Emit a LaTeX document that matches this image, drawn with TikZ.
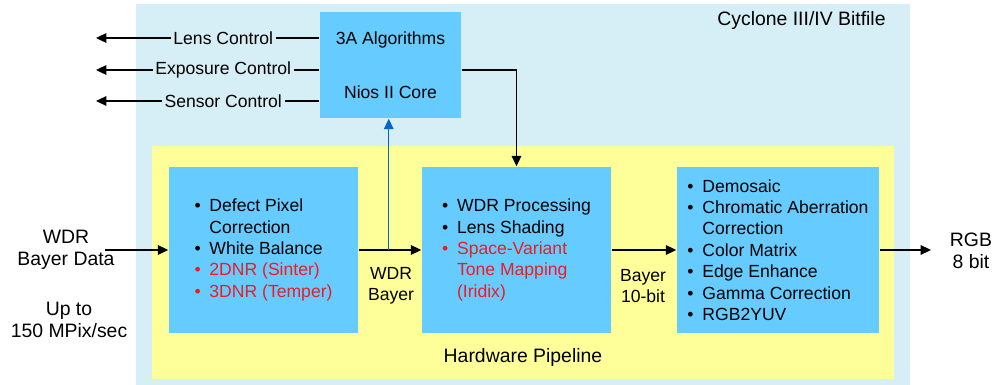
\documentclass[tikz,border=0pt]{standalone}
\usepackage{fontspec}
\setmainfont{Liberation Sans}
\usetikzlibrary{arrows.meta,calc}

\definecolor{bitblue}{RGB}{214,238,245}
\definecolor{boxblue}{RGB}{102,204,255}
\definecolor{pipeyellow}{RGB}{255,255,153}
\definecolor{itemred}{RGB}{235,28,36}
\definecolor{tapblue}{RGB}{0,102,204}

\newcommand{\bul}{\makebox[0.85em][l]{\textbullet}}
\newcommand{\nobul}{\hspace*{0.85em}}
\newcommand{\reditem}[1]{{\color{itemred}\bul#1}}
\newcommand{\redmore}[1]{{\color{itemred}\nobul#1}}

\begin{document}
\begin{tikzpicture}[x=0.025cm,y=-0.025cm,line width=1pt,
    >={Triangle[length=0.26cm,width=0.24cm]},font=\fontsize{12.5}{15.2}\selectfont]
    \tikzstyle{region}=[rectangle,inner sep=0pt]
    \tikzstyle{stage}=[rectangle,fill=boxblue,inner sep=0pt,align=left]
    \tikzstyle{lbl}=[align=center]
    \tikzstyle{biglbl}=[align=center,font=\fontsize{13.8}{16}\selectfont]
    \tikzstyle{ctrl}=[fill=bitblue,inner sep=2pt]
    \useasboundingbox (0,0) rectangle (1002,385);

    % backgrounds
    \node[region,fill=bitblue,minimum width=19.35cm,minimum height=9.525cm] (bitfile) at (523,194.5) {};
    \node[region,fill=pipeyellow,minimum width=18.55cm,minimum height=5.825cm] (pipe) at (523,262.5) {};
    \node[biglbl,anchor=east] (cyclbl) at (891,20) {Cyclone III/IV Bitfile};
    \node[biglbl] (hwlbl) at (523,357) {Hardware Pipeline};

    % blocks
    \node[stage,align=center,minimum width=3.525cm,minimum height=2.65cm] (nios) at (390.5,65)
        {3A Algorithms\\[0.81cm]Nios II Core};
    \node[stage,minimum width=4.725cm,minimum height=4.15cm] (b1) at (263.5,250)
        {\bul Defect Pixel\\\nobul Correction\\\bul White Balance\\\reditem{2DNR (Sinter)}\\\reditem{3DNR (Temper)}};
    \node[stage,minimum width=4.725cm,minimum height=4.15cm] (b2) at (516.5,250)
        {\bul WDR Processing\\\bul Lens Shading\\\reditem{Space-Variant}\\\redmore{Tone Mapping}\\\redmore{(Iridix)}};
    \node[stage,minimum width=5.05cm,minimum height=4.15cm] (b3) at (778,250)
        {\bul Demosaic\\\bul Chromatic Aberration\\\nobul Correction\\\bul Color Matrix\\\bul Edge Enhance\\\bul Gamma Correction\\\bul RGB2YUV};

    % control outputs
    \foreach \name/\txt/\y in {lens/Lens Control/38, expo/Exposure Control/70, sens/Sensor Control/101}{
        \coordinate (\name) at (96,\y);
        \draw[->] (nios.west |- \name) -- node[ctrl,pos=0.43] {\txt} (\name);
    }

    % data path
    \coordinate (datain) at (105,250);
    \coordinate (rgbout) at (931,250);
    \coordinate (tap) at ($(b1.east)!0.48!(b2.west)$);
    \draw[->] (datain) -- (b1.west);
    \draw[->] (b1.east) -- (b2.west);
    \draw[->] (b2.east) -- (b3.west);
    \draw[->] (b3.east) -- (rgbout);
    \draw[->,tapblue,line width=0.8pt] (tap) -- (tap |- nios.south);
    \draw[->] ([yshift=-0.125cm]nios.east) -| (b2.north);

    \node[biglbl] (datalbl) at (66,250) {WDR\\Bayer Data};
    \node[biglbl] (ratelbl) at (69,320) {Up to\\150 MPix/sec};
    \node[lbl] (wdrlbl) at (391,286) {WDR\\Bayer};
    \node[lbl] (bayerlbl) at (643,286) {Bayer\\10-bit};
    \node[biglbl] (rgblbl) at (971,251) {RGB\\8 bit};
\end{tikzpicture}
\end{document}
